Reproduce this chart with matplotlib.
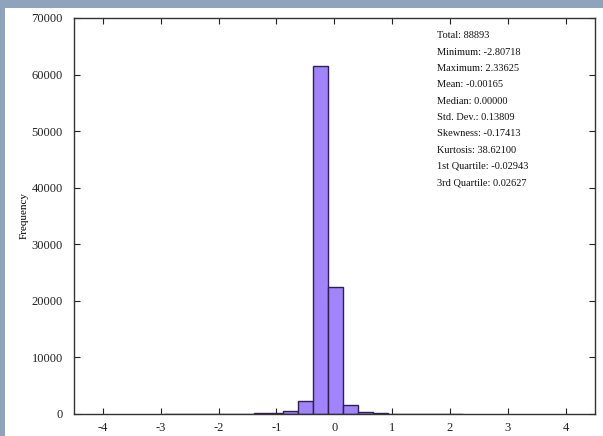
import matplotlib
matplotlib.use("Agg")
import matplotlib.pyplot as plt
import numpy as np
from matplotlib.patches import Rectangle

# Data
bin_edges = [-2.951, -2.692, -2.433, -2.174, -1.915, -1.656, -1.397, -1.138,
             -0.879, -0.620, -0.361, -0.102, 0.157, 0.416, 0.676, 0.935,
             1.194, 1.453, 1.712, 1.971, 2.230]
counts = [5, 5, 8, 10, 15, 25, 60, 150, 480, 2250, 61500, 22400,
          1550, 300, 60, 30, 15, 10, 5, 5]
xticks = [-4, -3, -2, -1, 0, 1, 2, 3, 4]
yticks = [0, 10000, 20000, 30000, 40000, 50000, 60000, 70000]
stats_lines = ["Total: 88893", "Minimum: -2.80718", "Maximum: 2.33625",
               "Mean: -0.00165", "Median: 0.00000", "Std. Dev.: 0.13809",
               "Skewness: -0.17413", "Kurtosis: 38.62100",
               "1st Quartile: -0.02943", "3rd Quartile: 0.02627"]

plt.rcParams['font.family'] = ['Liberation Serif', 'DejaVu Serif']

W, H = 603, 436
fig = plt.figure(figsize=(W / 100, H / 100), dpi=100)
fig.patch.set_facecolor('#8fa4bc')
fig.patches.append(Rectangle((5 / W, 0), 1 - 5 / W, 1 - 8 / H,
                             transform=fig.transFigure, facecolor='white',
                             edgecolor='none', zorder=-10))

ax = fig.add_axes([74 / W, (H - 413.7) / H, (594.7 - 74) / W, (413.7 - 18) / H])
ax.set_zorder(1)
ax.set_facecolor('white')

edges = np.array(bin_edges)
ax.bar(edges[:-1], counts, width=np.diff(edges), align='edge',
       color='#a183fb', edgecolor='#2e2150', linewidth=1.0, zorder=2)

ax.set_xlim(-4.5, 4.5)
ax.set_ylim(0, 70000)
ax.set_xticks(xticks)
ax.set_xticklabels([str(t) for t in xticks])
ax.set_yticks(yticks)
ax.set_yticklabels([str(t) for t in yticks])
ax.tick_params(direction='in', length=4, width=0.8, top=True, right=True,
               labelsize=9, colors='#222222')
ax.tick_params(axis='y', pad=8)
ax.tick_params(axis='x', pad=6)
for s in ax.spines.values():
    s.set_linewidth(1.0)
    s.set_color('#333333')

ax.set_ylabel('Frequency', fontsize=8, labelpad=2)

y0 = 36
dy = 16.3
for i, line in enumerate(stats_lines):
    ypix = y0 + i * dy
    ax.text(437 / W, 1 - ypix / H, line, fontsize=7.5, ha='left', va='center',
            color='#111111', transform=fig.transFigure, zorder=5)

fig.savefig('out.png', dpi=100, facecolor=fig.get_facecolor())
